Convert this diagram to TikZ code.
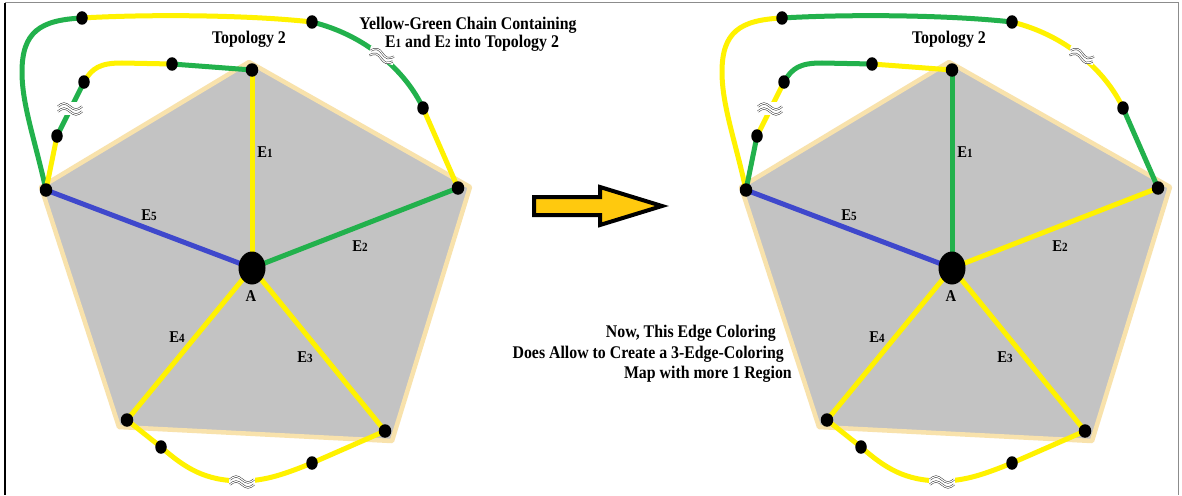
\documentclass[tikz,border=0pt]{standalone}
\usepackage{fontspec}
\setmainfont{Liberation Serif}[FakeStretch=0.89]
\usetikzlibrary{shapes.geometric}
\definecolor{pyellow}{HTML}{FFF200}
\definecolor{pgreen}{HTML}{22B14C}
\definecolor{pblue}{HTML}{3F48CC}
\definecolor{pgray}{HTML}{C3C3C3}
\definecolor{ptan}{HTML}{F8E2AC}
\definecolor{pgold}{HTML}{FFC90E}
\newcommand{\smd}[1]{{\fontsize{12.5}{12.5}\selectfont #1}}
\tikzset{
 edge/.style={line width=5pt},
 chain/.style={line width=5pt},
 dot/.style={ellipse, fill=black, inner sep=0pt, minimum width=11.5pt, minimum height=13.5pt},
 vdot/.style={dot, minimum width=12.5pt, minimum height=13.5pt},
 hub/.style={ellipse, fill=black, inner sep=0pt, minimum width=27pt, minimum height=33pt},
 lbl/.style={font=\fontsize{16.5}{18}\selectfont\bfseries, inner sep=0pt},
 txt/.style={font=\fontsize{17.8}{20}\selectfont\bfseries, inner sep=0pt},
 wave/.style={draw=black!80, line width=0.5pt, double=white, double distance=1.1pt},
 apx/.pic={\fill[white] (-13,-6) rectangle (13,7);
   \draw[wave] (-12,-1.5) sin (-6,-4.5) cos (0,-1.5) sin (6,1.5) cos (12,-1.5);
   \draw[wave] (-12,3.5) sin (-6,0.5) cos (0,3.5) sin (6,6.5) cos (12,3.5);}
}
\newcommand{\topo}[4]{%
\begin{scope}[xshift=#2]
\fill[pgray] (249,62) -- (470,187) -- (392,441) -- (119,427) -- (41,187) -- cycle;
\draw[ptan, line width=4.5pt, line join=round] (249,62) -- (470,187) -- (392,441) -- (119,427) -- (41,187) -- cycle;
\coordinate (#1T) at (252,70);
\coordinate (#1R) at (458,188);
\coordinate (#1LR) at (385,431);
\coordinate (#1LL) at (127,420);
\coordinate (#1L) at (46,190);
\coordinate (#1A) at (252,268);
\coordinate (#1o1) at (82,18);
\coordinate (#1o2) at (312,22);
\coordinate (#1o3) at (423,108);
\coordinate (#1i1) at (57,136);
\coordinate (#1i2) at (84,82);
\coordinate (#1i3) at (172,64);
\coordinate (#1b1) at (161,447);
\coordinate (#1b2) at (312,463);
\coordinate (#1wo) at (382,55);
\coordinate (#1wi) at (70,108);
\coordinate (#1wb) at (242,481);
% spokes
\draw[edge,#4] (#1A) -- (#1T);
\draw[edge,#3] (#1A) -- (#1R);
\draw[edge,pyellow] (#1A) -- (#1LR);
\draw[edge,pyellow] (#1A) -- (#1LL);
\draw[edge,pblue] (#1A) -- (#1L);
% outer chain
\draw[chain,#3] (#1L) .. controls (35,140) and (22,105) .. (22,72) .. controls (22,32) and (40,20) .. (#1o1);
\draw[chain,#4] (#1o1) .. controls (150,14) and (250,15) .. (#1o2);
\draw[chain,#3] (#1o2) .. controls (365,35) and (405,70) .. (#1o3);
\draw[chain,#4] (#1o3) -- (#1R);
% inner chain
\draw[chain,#4] (#1L) -- (#1i1);
\draw[chain,#3] (#1i1) -- (#1i2);
\draw[chain,#4] (#1i2) .. controls (92,68) and (100,63) .. (122,63) -- (#1i3);
\draw[chain,#3] (#1i3) -- (#1T);
% bottom chain
\draw[chain,pyellow] (#1LL) -- (#1b1) .. controls (185,468) and (205,481) .. (#1wb) .. controls (265,481) and (285,474) .. (#1b2) -- (#1LR);
% approx marks
\pic[rotate=-15] at (#1wo) {apx};
\pic at (#1wi) {apx};
\pic at (#1wb) {apx};
% dots
\node[vdot] (#1nT) at (#1T) {};
\node[vdot] (#1nR) at (#1R) {};
\node[vdot] (#1nLR) at (#1LR) {};
\node[vdot] (#1nLL) at (#1LL) {};
\node[vdot] (#1nL) at (#1L) {};
\node[hub] (#1nA) at (#1A) {};
\node[dot] (#1no1) at (#1o1) {};
\node[dot] (#1no2) at (#1o2) {};
\node[dot] (#1no3) at (#1o3) {};
\node[dot] (#1ni1) at (#1i1) {};
\node[dot] (#1ni2) at (#1i2) {};
\node[dot] (#1ni3) at (#1i3) {};
\node[dot] (#1nb1) at (#1b1) {};
\node[dot] (#1nb2) at (#1b2) {};
% labels
\node[lbl] (#1lE1) at (265,152) {E\smd{1}};
\node[lbl] (#1lE5) at (149,215) {E\smd{5}};
\node[lbl] (#1lE2) at (360,246) {E\smd{2}};
\node[lbl] (#1lE4) at (177,337) {E\smd{4}};
\node[lbl] (#1lE3) at (305,357) {E\smd{3}};
\node[lbl] (#1lA) at (251,296) {A};
\node[txt, anchor=base] (#1top) at (249,44) {Topology 2};
\end{scope}}
\begin{document}
\begin{tikzpicture}[x=1pt,y=-1pt]
\useasboundingbox (0,0) rectangle (1182,495);
\fill[white] (0,0) rectangle (1182,495);
\draw[black!45, line width=1pt] (5,3) -- (1178,3) -- (1178,495);
\draw[black, line width=1.5pt] (5,3) -- (5,495);
\topo{l}{0pt}{pgreen}{pyellow}
\topo{r}{700pt}{pyellow}{pgreen}
\draw[line width=4pt, line join=miter, fill=pgold] (534,197) -- (600,197) -- (600,187) -- (662,206) -- (600,225) -- (600,215) -- (534,215) -- cycle;
\node[txt, anchor=base] (t1) at (468,30) {Yellow-Green Chain Containing};
\node[txt, anchor=base] (t2) at (472,48) {E\smd{1} and E\smd{2} into Topology 2};
\node[txt, anchor=base east] (n1) at (776,337) {Now, This Edge Coloring};
\node[txt, anchor=base east] (n2) at (784,358) {Does Allow to Create a 3-Edge-Coloring};
\node[txt, anchor=base east] (n3) at (792,378) {Map with more 1 Region};
\end{tikzpicture}
\end{document}
